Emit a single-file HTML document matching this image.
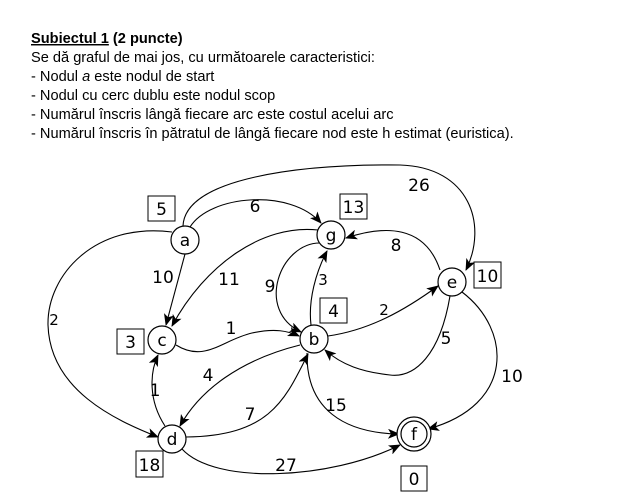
<!DOCTYPE html>
<html><head><meta charset="utf-8"><style>
html,body{margin:0;padding:0;background:#fff;width:636px;height:495px;overflow:hidden}
svg{display:block}
text{font-family:"Liberation Sans","DejaVu Sans",sans-serif;fill:#000}
.h{font-size:14.6px}
.l{font-size:17px;font-family:"DejaVu Sans","Liberation Sans",sans-serif}
.n{font-size:17px;font-family:"DejaVu Sans","Liberation Sans",sans-serif}
path.e{fill:none;stroke:#000;stroke-width:1.1;marker-end:url(#ar)}
circle{fill:#fff;stroke:#000;stroke-width:1.2}
rect{fill:#fff;stroke:#000;stroke-width:1}
</style></head><body>
<svg width="636" height="495" viewBox="0 0 636 495" xmlns="http://www.w3.org/2000/svg">
<defs><marker id="ar" markerWidth="12" markerHeight="10" refX="11" refY="5" orient="auto" markerUnits="userSpaceOnUse"><path d="M0,0 L12,5 L0,10 L3,5 z" fill="#000"/></marker></defs>
<text class="h" x="31" y="43" font-weight="bold"><tspan text-decoration="underline">Subiectul 1</tspan> (2 puncte)</text>
<text class="h" x="31" y="62">Se dă graful de mai jos, cu următoarele caracteristici:</text>
<text class="h" x="31" y="81">- Nodul <tspan font-style="italic">a</tspan> este nodul de start</text>
<text class="h" x="31" y="100">- Nodul cu cerc dublu este nodul scop</text>
<text class="h" x="31" y="119">- Numărul înscris lângă fiecare arc este costul acelui arc</text>
<text class="h" x="31" y="138">- Numărul înscris în pătratul de lângă fiecare nod este h estimat (euristica).</text>

<path class="e" d="M183,226 C185,178 300,164 400,165 C470,167 488,225 466,270"/>
<path class="e" d="M190,227 C210,195 290,188 321,223"/>
<path class="e" d="M185,254 L166,325"/>
<path class="e" d="M172,232 C95,222 47,275 48,325 C50,390 115,420 158,437"/>
<path class="e" d="M318,230 C262,224 205,265 172,326"/>
<path class="e" d="M320,243 C280,243 255,310 301,332"/>
<path class="e" d="M311,325 C308,300 316,272 327,251"/>
<path class="e" d="M440,270 C425,225 385,225 346,238"/>
<path class="e" d="M176,345 C205,363 222,340 252,333 C275,328 288,331 299,336"/>
<path class="e" d="M328,336 C370,330 405,310 438,286"/>
<path class="e" d="M450,296 C440,355 415,378 390,375 C362,372 342,365 325,350"/>
<path class="e" d="M462,292 C512,330 515,405 428,429"/>
<path class="e" d="M307,353 C306,410 345,433 399,434"/>
<path class="e" d="M165,426 C148,400 150,372 158,355"/>
<path class="e" d="M186,437 C270,436 285,400 308,354"/>
<path class="e" d="M300,345 C240,360 200,390 180,426"/>
<path class="e" d="M182,449 C215,485 330,480 400,445"/>

<circle cx="185" cy="240" r="14"/><text class="n" x="185" y="246" text-anchor="middle">a</text>
<circle cx="331" cy="235" r="14"/><text class="n" x="331" y="241" text-anchor="middle">g</text>
<circle cx="452" cy="282" r="14"/><text class="n" x="452" y="288" text-anchor="middle">e</text>
<circle cx="314" cy="339" r="14"/><text class="n" x="314" y="345" text-anchor="middle">b</text>
<circle cx="162" cy="340" r="14"/><text class="n" x="162" y="346" text-anchor="middle">c</text>
<circle cx="172" cy="439" r="14"/><text class="n" x="172" y="445" text-anchor="middle">d</text>
<circle cx="414" cy="434" r="17"/><circle cx="414" cy="434" r="13"/><text class="n" x="414" y="440" text-anchor="middle">f</text>

<rect x="148" y="196" width="27" height="25"/><text class="n" x="161.5" y="215" text-anchor="middle">5</text>
<rect x="340" y="194" width="27" height="25"/><text class="n" x="353.5" y="213" text-anchor="middle">13</text>
<rect x="474" y="262" width="27" height="26"/><text class="n" x="487.5" y="282" text-anchor="middle">10</text>
<rect x="320" y="298" width="27" height="25"/><text class="n" x="333.5" y="317" text-anchor="middle">4</text>
<rect x="117" y="329" width="27" height="25"/><text class="n" x="130.5" y="348" text-anchor="middle">3</text>
<rect x="136" y="451" width="27" height="26"/><text class="n" x="149.5" y="471" text-anchor="middle">18</text>
<rect x="401" y="466" width="26" height="25"/><text class="n" x="414" y="485" text-anchor="middle">0</text>

<text class="l" x="419" y="191" text-anchor="middle">26</text>
<text class="l" x="255" y="212" text-anchor="middle">6</text>
<text class="l" x="163" y="283" text-anchor="middle">10</text>
<text class="l" x="229" y="285" text-anchor="middle">11</text>
<text class="l" x="270" y="292" text-anchor="middle">9</text>
<text class="l" x="323" y="285" text-anchor="middle" style="font-size:15px">3</text>
<text class="l" x="396" y="251" text-anchor="middle">8</text>
<text class="l" x="54" y="325" text-anchor="middle" style="font-size:15px">2</text>
<text class="l" x="231" y="334" text-anchor="middle">1</text>
<text class="l" x="384" y="315" text-anchor="middle" style="font-size:15px">2</text>
<text class="l" x="446" y="344" text-anchor="middle">5</text>
<text class="l" x="512" y="382" text-anchor="middle">10</text>
<text class="l" x="208" y="381" text-anchor="middle">4</text>
<text class="l" x="155" y="396" text-anchor="middle">1</text>
<text class="l" x="250" y="420" text-anchor="middle">7</text>
<text class="l" x="336" y="411" text-anchor="middle">15</text>
<text class="l" x="286" y="471" text-anchor="middle">27</text>
</svg>
</body></html>
